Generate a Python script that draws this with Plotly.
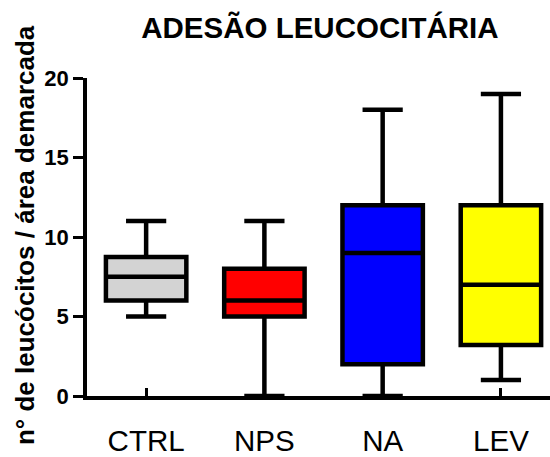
import plotly.graph_objects as go

categories = ["CTRL", "NPS", "NA", "LEV"]
mins = [5, 0, 0, 1]
q1s = [6, 5, 2, 3.2]
medians = [7.5, 6, 9, 7]
q3s = [8.75, 8, 12, 12]
maxs = [11, 11, 18, 19]
colors = ["#d3d3d3", "#ff0000", "#0000ff", "#ffff00"]
y_ticks = [0, 5, 10, 15, 20]

FONT = "Liberation Sans, Arial, sans-serif"

fig = go.Figure()
for cat, lo, a, m, b, hi, c in zip(categories, mins, q1s, medians, q3s, maxs, colors):
    fig.add_trace(go.Box(
        x=[cat], q1=[a], median=[m], q3=[b], lowerfence=[lo], upperfence=[hi],
        fillcolor=c, line=dict(color="black", width=4.5),
        width=0.68, whiskerwidth=0.5, boxpoints=False, showlegend=False,
        hoverinfo="skip",
    ))

fig.update_layout(
    width=550, height=457,
    margin=dict(l=87, r=0, t=78, b=61),
    paper_bgcolor="white", plot_bgcolor="white",
    title=dict(text="ADESÃO LEUCOCITÁRIA", x=0.503, xref="paper", xanchor="center",
               y=1 - 28 / 457, yref="container", yanchor="middle",
               font=dict(family=FONT, size=29.5, color="black", weight="bold")),
    showlegend=False,
)
fig.update_xaxes(
    type="category", categoryorder="array", categoryarray=categories,
    range=[-0.5, 3.415], showline=True, linecolor="black", linewidth=3.5,
    ticks="inside", ticklen=8, tickwidth=3, tickcolor="black",
    showgrid=False, zeroline=False,
    tickfont=dict(family=FONT, size=29.5, color="black"),
    ticklabelstandoff=16,
)
fig.update_yaxes(
    range=[0, 20], tickvals=y_ticks, ticktext=[str(v) for v in y_ticks],
    showline=True, linecolor="black", linewidth=3.5,
    ticks="outside", ticklen=10, tickwidth=3, tickcolor="black",
    showgrid=False, zeroline=False,
    tickfont=dict(family=FONT, size=22, color="black", weight="bold"),
)
fig.add_annotation(
    text="n° de leucócitos / área demarcada", textangle=-90,
    xref="paper", yref="paper", x=(25 - 87) / 463, y=0.506,
    xanchor="center", yanchor="middle", showarrow=False,
    font=dict(family=FONT, size=26, color="black", weight="bold"),
)

fig.write_html("out.html")
